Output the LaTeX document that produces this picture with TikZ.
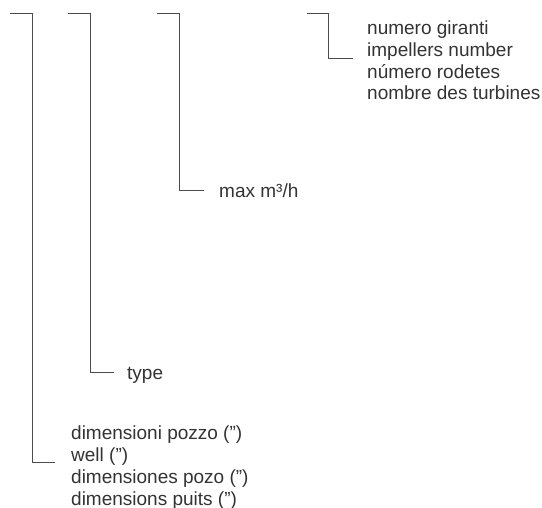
\documentclass[tikz,border=0pt]{standalone}
\usepackage{fontspec}
\setmainfont{Liberation Sans}
\begin{document}
\begin{tikzpicture}[x=1pt,y=1pt,
  bracket/.style={draw=black!70, line width=1pt},
  lbl/.style={anchor=base west, inner sep=0pt, text=black!80, align=left,
    font={\fontsize{19}{21.8}\selectfont}}]
\useasboundingbox (0,0) rectangle (542,-508);
% bracket A
\coordinate (a1) at (9.5,-13.3);
\coordinate (a2) at (32,-13.3);
\coordinate (a3) at (32,-463);
\coordinate (a4) at (55,-463);
\draw[bracket] (a1) -- (a2) -- (a3) -- (a4);
% bracket B
\coordinate (b1) at (68,-13.3);
\coordinate (b2) at (90,-13.3);
\coordinate (b3) at (90,-373);
\coordinate (b4) at (114,-373);
\draw[bracket] (b1) -- (b2) -- (b3) -- (b4);
% bracket C
\coordinate (c1) at (157,-13.3);
\coordinate (c2) at (179,-13.3);
\coordinate (c3) at (179,-191);
\coordinate (c4) at (204,-191);
\draw[bracket] (c1) -- (c2) -- (c3) -- (c4);
% bracket D
\coordinate (d1) at (306.5,-13.3);
\coordinate (d2) at (328,-13.3);
\coordinate (d3) at (328,-59);
\coordinate (d4) at (353,-59);
\draw[bracket] (d1) -- (d2) -- (d3) -- (d4);
% labels
\node[lbl] (ta) at (71,-505) {dimensioni pozzo (”)\\well (”)\\dimensiones pozo (”)\\dimensions puits (”)};
\node[lbl] (tb) at (127,-379.5) {type};
\node[lbl] (tc) at (219,-198) {max m³/h};
\node[lbl] (td) at (367,-100) {numero giranti\\impellers number\\número rodetes\\nombre des turbines};
\end{tikzpicture}
\end{document}
